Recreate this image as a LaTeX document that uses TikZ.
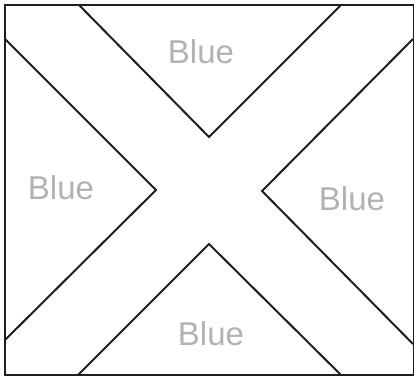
\documentclass[tikz,border=0pt]{standalone}
\usepackage{fontspec}
\setmainfont{Liberation Sans}
\definecolor{labelgray}{RGB}{178,178,182}
\definecolor{linecol}{RGB}{30,30,30}
\begin{document}
\begin{tikzpicture}[x=1pt,y=-1pt,
  edge/.style={draw=linecol,line width=2pt,line join=miter},
  lbl/.style={text=labelgray,font=\fontsize{33}{36}\selectfont,anchor=base,inner sep=0pt}]
\useasboundingbox (0,0) rectangle (414,379);
\begin{scope}
\clip (0,0) rectangle (414,379);
\draw[edge] (5,5) rectangle (414.3,375);
\end{scope}
\draw[edge] (79,5) -- (209,137) -- (341,5);
\draw[edge] (5,39) -- (156,190) -- (5,340);
\draw[edge] (413,39) -- (262,191) -- (413,344);
\draw[edge] (78,375) -- (209,244) -- (341,375);
\node[lbl] (top) at (201,64) {Blue};
\node[lbl] (left) at (61,199) {Blue};
\node[lbl] (right) at (352,211) {Blue};
\node[lbl] (bottom) at (211,345) {Blue};
\end{tikzpicture}
\end{document}
